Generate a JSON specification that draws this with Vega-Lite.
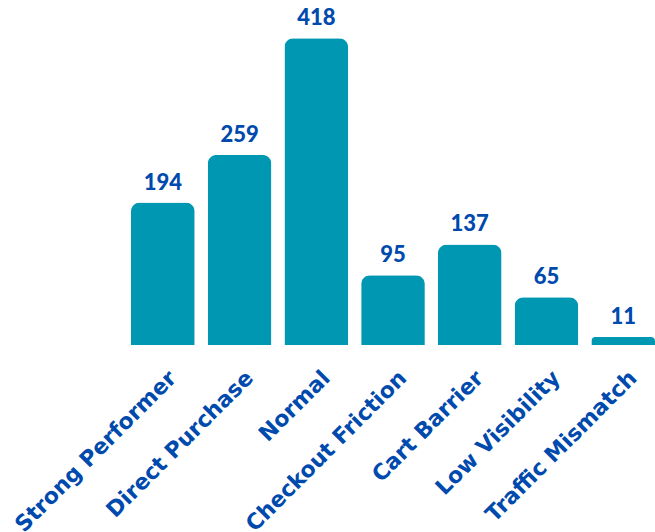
{
  "$schema": "https://vega.github.io/schema/vega-lite/v6.json",
  "autosize": {"type": "none"},
  "padding": {"left": 131, "top": 0, "right": 0, "bottom": 187},
  "width": 524,
  "height": 345,
  "background": "white",
  "config": {"view": {"stroke": null}},
  "data": {
    "values": [
      {"category": "Strong Performer", "count": 194},
      {"category": "Direct Purchase", "count": 259},
      {"category": "Normal", "count": 418},
      {"category": "Checkout Friction", "count": 95},
      {"category": "Cart Barrier", "count": 137},
      {"category": "Low Visibility", "count": 65},
      {"category": "Traffic Mismatch", "count": 11}
    ]
  },
  "encoding": {
    "x": {
      "field": "category",
      "type": "nominal",
      "sort": null,
      "scale": {"paddingInner": 0.17, "paddingOuter": 0},
      "axis": {
        "title": null,
        "labelAngle": -45,
        "labelAlign": "right",
        "labelBaseline": "middle",
        "labelFont": "DejaVu Sans",
        "labelFontWeight": "bold",
        "labelFontSize": 22,
        "labelColor": "#004AAD",
        "labelPadding": 29,
        "labelOffset": 10,
        "labelLimit": 400,
        "labelOverlap": false,
        "ticks": false,
        "domain": false,
        "grid": false
      }
    },
    "y": {
      "field": "count",
      "type": "quantitative",
      "scale": {"domain": [0, 470]},
      "axis": null
    }
  },
  "layer": [
    {
      "mark": {"type": "bar", "color": "#0097B2", "cornerRadiusTopLeft": 9, "cornerRadiusTopRight": 9}
    },
    {
      "mark": {"type": "text", "baseline": "bottom", "dy": -8, "font": "Lato", "fontWeight": 900, "fontSize": 22, "color": "#004AAD"},
      "encoding": {"text": {"field": "count", "type": "quantitative"}}
    }
  ]
}
